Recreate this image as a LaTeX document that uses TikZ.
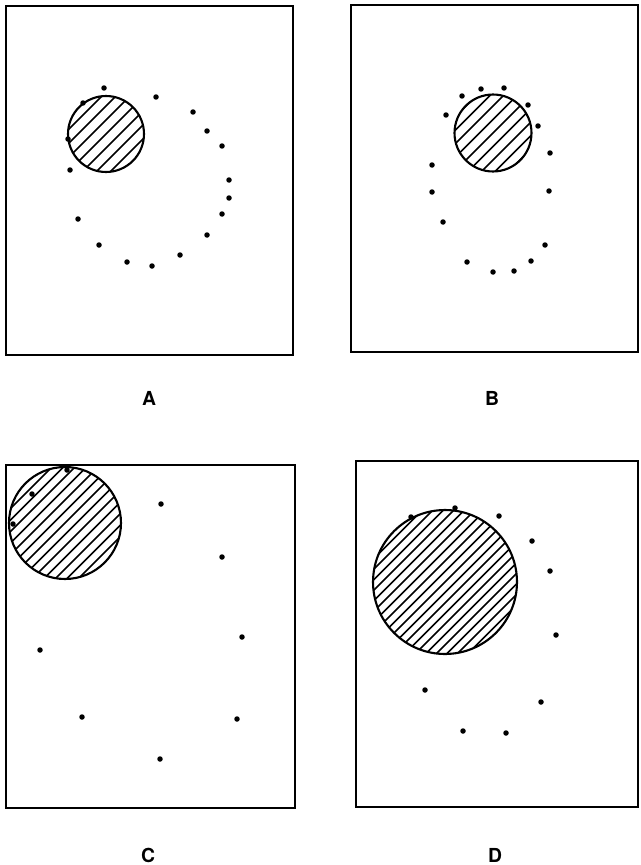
\documentclass[tikz,border=0pt]{standalone}
\usepackage{fontspec}
\setsansfont{TeX Gyre Heros}

\begin{document}
\begin{tikzpicture}[
    x=0.02cm, y=-0.02cm,
    panel/.style={draw, line width=1.6pt},
    disc/.style={circle, draw, line width=1.2pt, inner sep=0pt,
        path picture={\foreach \s in {-16,...,16}
            \draw[line width=0.9pt] ([xshift=\s*#1]path picture bounding box.center) ++(-4cm,-4cm) -- ++(8cm,8cm);}},
    dot/.style={circle, fill, inner sep=0pt, minimum size=0.11cm},
    lab/.style={font=\sffamily\bfseries\fontsize{11}{13}\selectfont}
    ]

    \useasboundingbox (0,0) rectangle (640,865);

    % Panels
    \draw[panel] (6,6) rectangle (293,355);
    \draw[panel] (351,5) rectangle (638,352);
    \draw[panel] (6,465) rectangle (295,808);
    \draw[panel] (356,461) rectangle (638,807);

    % Discs
    \node[disc=0.28cm, minimum size=1.52cm] (discA) at (106,134) {};
    \node[disc=0.27cm, minimum size=1.54cm] (discB) at (493,133) {};
    \node[disc=0.23cm, minimum size=2.24cm] (discC) at (65,523) {};
    \node[disc=0.21cm, minimum size=2.88cm] (discD) at (445,582) {};

    % Dots
    \foreach \p [count=\i] in {(104,88),(156,97),(193,112),(207,131),(222,146),(229,180),
        (229,198),(222,214),(207,235),(180,255),(152,266),(127,262),(99,245),(78,219),
        (70,170),(68,139),(83,103)}
        \node[dot] (dA\i) at \p {};
    \foreach \p [count=\i] in {(462,96),(481,89),(504,88),(528,105),(538,126),(550,153),
        (549,191),(545,245),(531,261),(514,271),(493,272),(467,262),(443,222),(432,192),
        (432,165),(446,115)}
        \node[dot] (dB\i) at \p {};
    \foreach \p [count=\i] in {(67,470),(32,494),(13,524),(161,504),(222,557),(242,637),
        (40,650),(82,717),(237,719),(160,759)}
        \node[dot] (dC\i) at \p {};
    \foreach \p [count=\i] in {(411,517),(455,508),(499,516),(532,541),(550,571),(556,635),
        (425,690),(541,702),(463,731),(506,733)}
        \node[dot] (dD\i) at \p {};

    % Labels
    \node[lab] (labA) at (149,398) {A};
    \node[lab] (labB) at (492,398) {B};
    \node[lab] (labC) at (148,855) {C};
    \node[lab] (labD) at (495,855) {D};

\end{tikzpicture}
\end{document}
